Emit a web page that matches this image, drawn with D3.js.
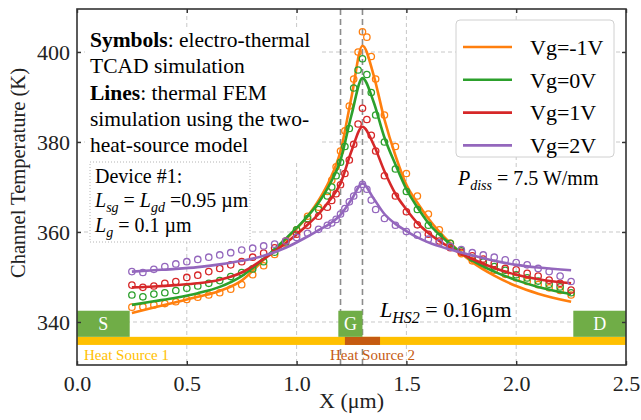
<!DOCTYPE html>
<html>
<head>
<meta charset="utf-8">
<script src="https://cdn.jsdelivr.net/npm/d3@7"></script>
<style>
  body { margin: 0; background: #fff; }
  svg text { font-family: "Liberation Serif", "Times New Roman", serif; }
</style>
</head>
<body>
<svg id="chart" width="641" height="420"></svg>
<script>
// ---- data ----
const xTicks = [0.0, 0.5, 1.0, 1.5, 2.0, 2.5];
const yTicks = [340, 360, 380, 400];
const gateEdges = [1.2, 1.3];

// FEM lines (x in um, T in K)
const lineX = [0.25, 0.35, 0.45, 0.55, 0.65, 0.75, 0.85, 0.95, 1.05, 1.10, 1.15, 1.20, 1.25,
  1.30, 1.35, 1.40, 1.45, 1.50, 1.55, 1.60, 1.70, 1.80, 1.90, 2.00, 2.10, 2.25];
const lineVgm1 = [342.0, 343.2, 344.4, 345.6, 346.9, 349.2, 353.8, 358.3, 363.5, 367.0, 371.5, 378.0, 390.0,
  401.4, 395.0, 385.0, 377.0, 370.5, 366.5, 363.0, 357.5, 353.3, 350.3, 348.0, 346.3, 344.5];
const lineVg0 = [343.8, 344.6, 345.4, 346.4, 347.8, 350.2, 354.0, 358.5, 363.5, 366.5, 370.5, 376.0, 386.0,
  394.2, 389.0, 381.0, 375.0, 369.5, 365.5, 362.0, 357.3, 353.7, 351.2, 349.3, 347.8, 346.2];
const lineVg1 = [347.7, 347.9, 348.2, 348.6, 349.4, 351.0, 354.0, 357.5, 361.6, 364.0, 367.0, 370.8, 378.0,
  383.4, 379.5, 373.5, 368.5, 365.0, 362.0, 359.8, 356.5, 354.0, 352.0, 350.5, 349.5, 348.6];
const lineVg2 = [351.2, 351.5, 351.8, 352.2, 352.8, 353.6, 354.7, 356.5, 359.0, 360.4, 361.8, 363.8, 367.2,
  370.8, 367.5, 364.0, 361.8, 360.2, 358.8, 357.7, 356.1, 354.8, 353.6, 352.7, 352.1, 351.5];

// TCAD symbols
const symX = [0.25, 0.30, 0.35, 0.40, 0.45, 0.50, 0.55, 0.60, 0.65, 0.70, 0.75, 0.80, 0.85, 0.90, 0.95, 1.00, 1.05,
  1.10, 1.14, 1.16, 1.18, 1.20, 1.22, 1.24, 1.26, 1.28, 1.30, 1.32, 1.34, 1.36, 1.40, 1.45,
  1.50, 1.55, 1.60, 1.65, 1.70, 1.75, 1.80, 1.85, 1.90, 1.95, 2.00, 2.05, 2.10, 2.15, 2.20, 2.25];
const symVgm1 = [343.3, 343.4, 343.8, 344.1, 344.5, 345.0, 345.5, 346.0, 346.5, 347.3, 348.3, 350.5, 352.5, 355.0, 357.5, 360.5, 363.5,
  365.5, 369.0, 371.5, 374.5, 378.0, 382.5, 388.0, 394.0, 400.0, 404.5, 403.3, 399.0, 394.0, 386.0, 379.0,
  373.0, 368.0, 364.0, 360.5, 357.5, 355.2, 353.6, 352.5, 351.5, 350.6, 349.8, 349.0, 348.3, 347.6, 347.0, 346.0];
const symVg0 = [346.0, 345.6, 346.2, 346.5, 347.0, 347.5, 348.0, 348.6, 349.2, 350.1, 351.0, 351.8, 353.4, 355.5, 357.8, 360.5, 363.0,
  365.0, 368.0, 370.0, 372.5, 375.5, 379.0, 383.0, 392.0, 396.0, 398.5, 395.0, 391.0, 386.0, 380.0, 374.0,
  369.0, 365.0, 361.5, 359.0, 357.5, 355.8, 354.2, 353.3, 352.3, 351.5, 350.5, 349.8, 349.1, 348.4, 347.8, 346.5];
const symVg1 = [348.2, 347.7, 348.0, 348.6, 349.0, 349.9, 350.4, 351.2, 351.9, 352.7, 353.4, 354.4, 355.3, 356.5, 358.0, 359.5, 361.5,
  363.5, 365.5, 367.0, 368.5, 370.5, 373.0, 376.0, 379.5, 384.0, 387.5, 385.0, 381.5, 378.0, 372.5, 368.0,
  364.5, 361.6, 359.5, 358.0, 356.5, 355.5, 354.7, 354.0, 353.0, 351.9, 351.6, 350.8, 350.2, 349.3, 348.6, 347.1];
const symVg2 = [351.2, 351.0, 351.7, 352.3, 352.9, 353.4, 353.9, 354.4, 354.9, 355.4, 356.0, 356.4, 356.9, 357.3, 358.0, 358.8, 359.7,
  360.6, 361.5, 362.0, 362.8, 364.0, 365.2, 366.7, 368.0, 369.5, 370.6, 369.5, 367.1, 365.0, 363.0, 361.5,
  360.1, 359.3, 358.4, 357.6, 356.8, 356.1, 355.4, 354.9, 354.4, 353.8, 353.2, 352.7, 351.9, 351.2, 350.2, 349.0];

const seriesNames = ["Vg=-1V", "Vg=0V", "Vg=1V", "Vg=2V"];
const seriesColors = ["#ff7f0e", "#2ca02c", "#d62728", "#9467bd"];
const seriesLines = [lineVgm1, lineVg0, lineVg1, lineVg2];
const seriesSyms = [symVgm1, symVg0, symVg1, symVg2];

// device layout drawn along the bottom (x in um, T-axis units for height)
const contacts = [{ name: "S", x0: 0.0, x1: 0.24 }, { name: "G", x0: 1.19, x1: 1.30 }, { name: "D", x0: 2.26, x1: 2.5 }];
const contactSpan = [336.7, 342.5];
const heatSource1 = { x0: 0.0, x1: 2.5 };
const heatSource2 = { x0: 1.22, x1: 1.38 };
const heatSpan = [334.9, 336.7];

// ---- layout ----
const svg = d3.select("#chart");
const margin = { top: 9, right: 15, bottom: 55, left: 77 };
const width = 641 - margin.left - margin.right,
  height = 420 - margin.top - margin.bottom;

const g = svg.append("g").attr("transform", "translate(" + margin.left + "," + margin.top + ")");

const x = d3.scaleLinear().domain([0, 2.5]).range([0, width]);
const y = d3.scaleLinear().domain([330.44, 409.56]).range([height, 0]);

// grid
g.append("g").selectAll("line").data(xTicks.slice(1, -1)).enter().append("line")
  .attr("x1", d => x(d)).attr("x2", d => x(d)).attr("y1", 0).attr("y2", height)
  .attr("stroke", "#c8c8c8").attr("stroke-width", 1).attr("stroke-dasharray", "4,3");
g.append("g").selectAll("line").data(yTicks).enter().append("line")
  .attr("x1", 0).attr("x2", width).attr("y1", d => y(d)).attr("y2", d => y(d))
  .attr("stroke", "#c8c8c8").attr("stroke-width", 1).attr("stroke-dasharray", "4,3");

// gate edge markers
g.append("g").selectAll("line").data(gateEdges).enter().append("line")
  .attr("x1", d => x(d)).attr("x2", d => x(d)).attr("y1", 0).attr("y2", height)
  .attr("stroke", "#8c8c8c").attr("stroke-width", 1.6).attr("stroke-dasharray", "6,4");

// series
const line = d3.line()
  .x((d, i) => x(lineX[i]))
  .y(d => y(d))
  .curve(d3.curveMonotoneX);

seriesNames.forEach(function (name, k) {
  g.append("g").selectAll("circle").data(seriesSyms[k]).enter().append("circle")
    .attr("cx", (d, i) => x(symX[i]))
    .attr("cy", d => y(d))
    .attr("r", 3.2)
    .attr("fill", "none")
    .attr("stroke", seriesColors[k])
    .attr("stroke-width", 1.3);
  g.append("path").datum(seriesLines[k])
    .attr("d", line)
    .attr("fill", "none")
    .attr("stroke", seriesColors[k])
    .attr("stroke-width", 2.6);
});

// heat sources and contacts
g.append("rect")
  .attr("x", x(heatSource1.x0)).attr("width", x(heatSource1.x1) - x(heatSource1.x0))
  .attr("y", y(heatSpan[1])).attr("height", y(heatSpan[0]) - y(heatSpan[1]))
  .attr("fill", "#ffc000");
g.append("rect")
  .attr("x", x(heatSource2.x0)).attr("width", x(heatSource2.x1) - x(heatSource2.x0))
  .attr("y", y(heatSpan[1])).attr("height", y(heatSpan[0]) - y(heatSpan[1]))
  .attr("fill", "#c55a11");

const cg = g.append("g").selectAll("g").data(contacts).enter().append("g");
cg.append("rect")
  .attr("x", d => x(d.x0)).attr("width", d => x(d.x1) - x(d.x0))
  .attr("y", y(contactSpan[1])).attr("height", y(contactSpan[0]) - y(contactSpan[1]))
  .attr("fill", "#70ad47");
cg.append("text")
  .attr("x", d => (x(d.x0) + x(d.x1)) / 2)
  .attr("y", (y(contactSpan[0]) + y(contactSpan[1])) / 2)
  .attr("dy", "0.36em")
  .attr("text-anchor", "middle")
  .attr("fill", "#fff")
  .style("font-size", "18px")
  .text(d => d.name);

g.append("text").attr("x", 7).attr("y", 351).attr("fill", "#ffc000")
  .style("font-size", "15px").text("Heat Source 1");
g.append("text").attr("x", 253).attr("y", 351).attr("fill", "#c55a11")
  .style("font-size", "15px").text("Heat Source 2");

// rich text helper
function rich(sel, px, py, parts, size) {
  const t = sel.append("text").attr("x", px).attr("y", py).style("font-size", size + "px");
  let shifted = 0;
  parts.forEach(function (p) {
    const ts = t.append("tspan").text(p.t);
    if (p.bold) ts.style("font-weight", "bold");
    if (p.italic) ts.style("font-style", "italic");
    if (p.sub) {
      ts.style("font-size", Math.round(size * 0.72) + "px");
      if (!shifted) { ts.attr("dy", size * 0.25); shifted = 1; }
    } else if (shifted) {
      ts.attr("dy", -size * 0.25); shifted = 0;
    }
  });
  return t;
}

// annotation block
g.append("rect").attr("x", 8).attr("y", 19).attr("width", 236).attr("height", 132).attr("fill", "#fff");
const note = [
  [{ t: "Symbols", bold: true }, { t: ": electro-thermal" }],
  [{ t: "TCAD simulation" }],
  [{ t: "Lines", bold: true }, { t: ": thermal FEM" }],
  [{ t: "simulation using the two-" }],
  [{ t: "heat-source model" }]
];
note.forEach((parts, i) => rich(g, 13, 38 + i * 26.3, parts, 21.5));

// device box
g.append("rect").attr("x", 13).attr("y", 153).attr("width", 160).attr("height", 80)
  .attr("fill", "#fff").attr("stroke", "#b4b4b4").attr("stroke-width", 1).attr("stroke-dasharray", "1,2");
rich(g, 18, 174, [{ t: "Device #1:" }], 20);
rich(g, 18, 198, [{ t: "L", italic: true }, { t: "sg", italic: true, sub: true }, { t: " = " },
  { t: "L", italic: true }, { t: "gd", italic: true, sub: true }, { t: " =0.95 \u00b5m" }], 20);
rich(g, 18, 223, [{ t: "L", italic: true }, { t: "g", italic: true, sub: true }, { t: " = 0.1 \u00b5m" }], 20);

// P_diss
g.append("rect").attr("x", 378).attr("y", 158).attr("width", 142).attr("height", 28).attr("fill", "#fff");
rich(g, 381, 176, [{ t: "P", italic: true }, { t: "diss", italic: true, sub: true }, { t: " = 7.5 W/mm" }], 20);

// L_HS2
g.append("rect").attr("x", 300).attr("y", 290).attr("width", 130).attr("height", 22).attr("fill", "#fff");
rich(g, 303, 308, [{ t: "L", italic: true }, { t: "HS2", italic: true, sub: true }, { t: " = 0.16\u00b5m" }], 22);

// legend
const lg = g.append("g").attr("transform", "translate(379,11)");
lg.append("rect").attr("width", 158).attr("height", 137).attr("rx", 4)
  .attr("fill", "#fff").attr("stroke", "#d0d0d0").attr("stroke-width", 1);
const le = lg.selectAll("g.item").data(seriesNames).enter().append("g")
  .attr("transform", (d, i) => "translate(0," + (27 + i * 32.8) + ")");
le.append("line").attr("x1", 7).attr("x2", 56).attr("y1", 0).attr("y2", 0)
  .attr("stroke", (d, i) => seriesColors[i]).attr("stroke-width", 2.6);
le.append("text").attr("x", 74).attr("dy", "0.35em").style("font-size", "22px").text(d => d);

// axes
g.append("rect").attr("width", width).attr("height", height)
  .attr("fill", "none").attr("stroke", "#333").attr("stroke-width", 1.6);

const fmt = d3.format(".1f");
const ax = [
  g.append("g").attr("transform", "translate(0," + height + ")")
    .call(d3.axisBottom(x).tickValues(xTicks).tickFormat(fmt).tickSizeInner(-4).tickSizeOuter(0).tickPadding(10)),
  g.append("g")
    .call(d3.axisLeft(y).tickValues(yTicks).tickSizeInner(-4).tickSizeOuter(0).tickPadding(7)),
  g.append("g")
    .call(d3.axisTop(x).tickValues(xTicks).tickFormat("").tickSizeInner(-4).tickSizeOuter(0)),
  g.append("g").attr("transform", "translate(" + width + ",0)")
    .call(d3.axisRight(y).tickValues(yTicks).tickFormat("").tickSizeInner(-4).tickSizeOuter(0))
];
ax.forEach(function (a) {
  a.select(".domain").remove();
  a.selectAll(".tick line").attr("stroke", "#333").attr("stroke-width", 1.4);
  a.selectAll("text").attr("fill", "#222").style("font-size", "22px")
    .style("font-family", "'Liberation Serif', 'Times New Roman', serif");
});

// axis titles
g.append("text").attr("x", width / 2).attr("y", height + 43).attr("text-anchor", "middle")
  .style("font-size", "22px").attr("fill", "#222").text("X (\u03bcm)");
g.append("text").attr("transform", "translate(-52,164) rotate(-90)")
  .attr("text-anchor", "middle").style("font-size", "22px").attr("fill", "#222")
  .attr("textLength", 210).attr("lengthAdjust", "spacingAndGlyphs")
  .text("Channel Temperature (K)");
</script>
</body>
</html>
